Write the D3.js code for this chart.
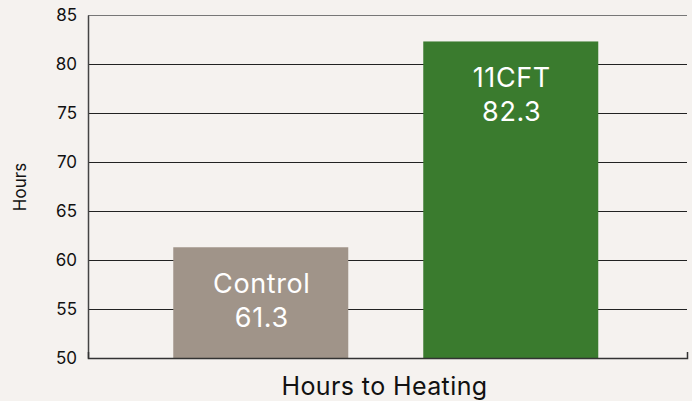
<!DOCTYPE html>
<html lang="en">
<head>
    <meta charset="UTF-8">
    <title>Hours to Heating</title>
    <script src="https://cdn.jsdelivr.net/npm/d3@7/dist/d3.min.js"></script>
    <style>
        html, body { margin: 0; padding: 0; background: #f5f2ef; }
        svg { display: block; font-family: Inter, "Noto Sans", sans-serif; }
    </style>
</head>
<body>
<svg id="main" width="692" height="401"></svg>
<script>
    // chart data
    const categories = ['Control', '11CFT'];
    const values = [61.3, 82.3];
    const yTicks = [50, 55, 60, 65, 70, 75, 80, 85];
    const barColors = ['#a09489', '#3a7b2e'];

    let svg = d3.select('svg#main');
    let plotLeft = 88, plotRight = 687, plotTop = 15, plotBottom = 358;

    let xScale = d3.scaleBand()
        .domain(categories)
        .range([plotLeft, plotRight])
        .paddingInner(0.3)
        .paddingOuter(0.348)
        .align(0.49);

    let yScale = d3.scaleLinear()
        .domain([50, 85])
        .range([plotBottom, plotTop]);

    // gridlines
    let grid = svg.append('g')
        .attr('transform', 'translate(' + plotLeft + ',0)')
        .call(d3.axisLeft(yScale)
            .tickValues(yTicks.slice(1))
            .tickSize(-(plotRight - plotLeft))
            .tickFormat(''));
    grid.select('.domain').remove();
    grid.selectAll('.tick line').attr('stroke', '#222').attr('stroke-width', 1.2);
    grid.selectAll('.tick').filter(d => d === 85).select('line').attr('stroke', '#777');

    // bars
    svg.selectAll('rect.bar')
        .data(categories)
        .enter()
        .append('rect')
        .attr('class', 'bar')
        .attr('x', d => xScale(d))
        .attr('width', xScale.bandwidth())
        .attr('y', (d, i) => yScale(values[i]))
        .attr('height', (d, i) => yScale(50) - yScale(values[i]))
        .attr('fill', (d, i) => barColors[i]);

    // bar labels
    let labels = svg.selectAll('text.barlabel')
        .data(categories)
        .enter()
        .append('text')
        .attr('class', 'barlabel')
        .attr('text-anchor', 'middle')
        .attr('fill', '#fff')
        .style('font-size', '27px')
        .style('letter-spacing', '0.6px');
    labels.append('tspan')
        .attr('x', d => xScale(d) + xScale.bandwidth() / 2 + 1)
        .attr('y', (d, i) => yScale(values[i]) + 46)
        .text(d => d);
    labels.append('tspan')
        .attr('x', d => xScale(d) + xScale.bandwidth() / 2 + 1)
        .attr('dy', 33.5)
        .text((d, i) => values[i].toFixed(1));

    // y axis
    let yAxis = svg.append('g')
        .attr('transform', 'translate(' + plotLeft + ',0)')
        .call(d3.axisLeft(yScale)
            .tickValues(yTicks)
            .tickSize(0)
            .tickPadding(11));
    yAxis.select('.domain').attr('stroke', '#444').attr('stroke-width', 1.5);
    yAxis.selectAll('text')
        .attr('fill', '#111')
        .style('font-size', '17px')
        .style('font-family', 'Inter, sans-serif');

    // x axis
    let xAxis = svg.append('g')
        .attr('transform', 'translate(0,' + plotBottom + ')')
        .call(d3.axisBottom(xScale)
            .tickValues([])
            .tickSizeOuter(-6));
    xAxis.select('.domain').attr('stroke', '#333').attr('stroke-width', 1.5);

    // axis titles
    svg.append('text')
        .attr('x', (plotLeft + plotRight) / 2 - 3)
        .attr('y', 395)
        .attr('text-anchor', 'middle')
        .attr('fill', '#111')
        .style('font-size', '25px')
        .style('letter-spacing', '0.4px')
        .text('Hours to Heating');

    svg.append('text')
        .attr('transform', 'translate(26,187) rotate(-90)')
        .attr('text-anchor', 'middle')
        .attr('fill', '#111')
        .style('font-size', '17px')
        .text('Hours');
</script>
</body>
</html>
